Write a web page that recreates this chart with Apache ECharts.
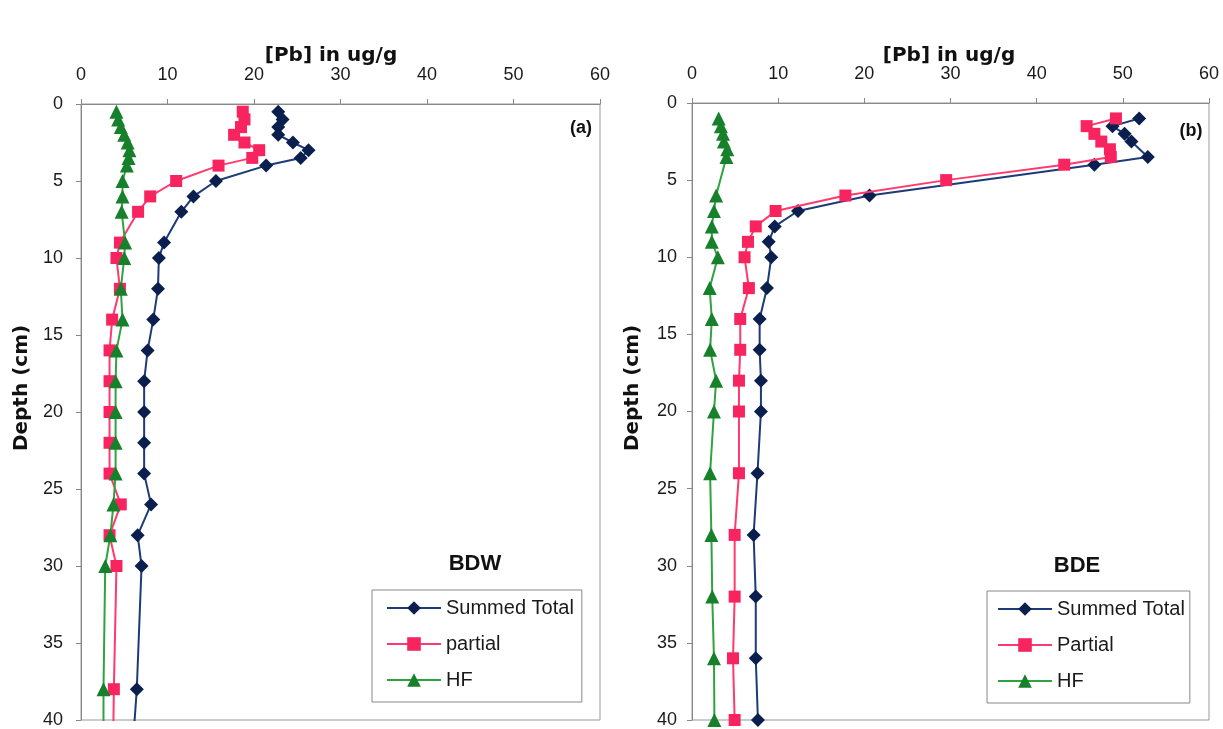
<!DOCTYPE html>
<html><head><meta charset="utf-8">
<script src="https://cdn.jsdelivr.net/npm/echarts@6/dist/echarts.min.js"></script>
<style>html,body{margin:0;padding:0;background:#fff}#c{width:1223px;height:729px}</style>
</head><body><div id="c"></div>
<script>
// Panel (a) BDW
const depthA = [0.5,1,1.5,2,2.5,3,3.5,4,5,6,7,9,10,12,14,16,18,20,22,24,26,28,30,38,42];
const summedA = [22.8,23.3,22.8,22.8,24.5,26.3,25.4,21.4,15.6,13.0,11.6,9.6,9.0,8.9,8.35,7.7,7.3,7.3,7.3,7.3,8.1,6.55,7.0,6.45,5.95];
const partialA = [18.7,18.9,18.5,17.7,18.9,20.6,19.8,15.9,11.0,8.0,6.6,4.5,4.1,4.5,3.6,3.3,3.3,3.3,3.3,3.3,4.6,3.3,4.1,3.8,3.7];
const hfA = [4.1,4.3,4.6,5.0,5.4,5.6,5.5,5.3,4.8,4.8,4.7,5.1,5.0,4.6,4.8,4.1,4.0,4.0,4.0,4.0,3.75,3.4,2.8,2.6,2.6];

// Panel (b) BDE
const depthSummedB = [1,1.5,2,2.5,3.5,4,6,7,8,9,10,12,14,16,18,20,24,28,32,36,40];
const summedB = [51.9,48.8,50.2,51.0,52.9,46.7,20.6,12.3,9.6,8.9,9.2,8.7,7.85,7.85,8.0,8.0,7.6,7.15,7.4,7.4,7.65];
const depthPartialB = [1,1.5,2,2.5,3,3.5,4,5,6,7,8,9,10,12,14,16,18,20,24,28,32,36,40];
const partialB = [49.2,45.8,46.7,47.5,48.5,48.6,43.2,29.5,17.8,9.7,7.4,6.5,6.1,6.6,5.6,5.6,5.45,5.45,5.45,4.95,4.95,4.76,4.95];
const depthHfB = [1,1.5,2,2.5,3,3.5,6,7,8,9,10,12,14,16,18,20,24,28,32,36,40];
const hfB = [3.1,3.35,3.6,3.7,4.1,4.0,2.8,2.55,2.3,2.3,3.0,2.05,2.3,2.1,2.8,2.55,2.1,2.25,2.35,2.55,2.6];

const xTicks = [0,10,20,30,40,50,60];
const yTicks = [0,5,10,15,20,25,30,35,40];
const xName = '[Pb] in ug/g';
const yName = 'Depth (cm)';
const namesA = ['Summed Total','partial','HF'];
const namesB = ['Summed Total ','Partial','HF '];
const panelTitles = ['BDW','BDE'];
const panelTags = ['(a)','(b)'];

const pairs = (xs, ys) => xs.map((v,i)=>[v, ys[i]]);
const FONT = 'Liberation Sans, Arial, sans-serif';
const BFONT = 'DejaVu Sans, sans-serif';
const C = {
  sumLine:'#1d3b78', sumMark:'#0b1f4e',
  parLine:'#ff3a6e', parMark:'#f7245f',
  hfLine:'#2fa33f', hfMark:'#17802a'
};

function xAx(gi){
  return {gridIndex:gi, type:'value', position:'top', min:0, max:60, interval:10,
    axisLine:{show:true,lineStyle:{color:'#888',width:1}},
    axisTick:{show:true,length:5,lineStyle:{color:'#888'}},
    axisLabel:{fontFamily:FONT,fontSize:18,color:'#1a1a1a',margin:20,
      formatter:v=>xTicks.includes(v)?String(v):''},
    splitLine:{show:false}};
}
function yAx(gi,margin){
  return {gridIndex:gi, type:'value', inverse:true, min:0, max:40, interval:5,
    axisLine:{show:true,lineStyle:{color:'#888',width:1}},
    axisTick:{show:true,length:5,lineStyle:{color:'#888'}},
    axisLabel:{fontFamily:FONT,fontSize:18,color:'#1a1a1a',margin:margin,
      formatter:v=>yTicks.includes(v)?String(v):''},
    splitLine:{show:false}};
}
function ser(name, gi, data, kind){
  const st = {
    sum:{symbol:'diamond',size:14,line:C.sumLine,mark:C.sumMark},
    par:{symbol:'rect',size:12,line:C.parLine,mark:C.parMark},
    hf:{symbol:'triangle',size:14,line:C.hfLine,mark:C.hfMark}
  }[kind];
  return {name, type:'line', xAxisIndex:gi, yAxisIndex:gi, data, clip:true,
    symbol:st.symbol, symbolSize:st.size, showSymbol:true,
    lineStyle:{color:st.line,width:2}, itemStyle:{color:st.mark},
    animation:false, z: kind==='sum'?3:(kind==='par'?4:5)};
}
function legend(names,left,top,padding){
  return {data:names, orient:'vertical', left, top, itemWidth:54, itemHeight:17, itemGap:16,
    padding, borderColor:'#888', borderWidth:1, backgroundColor:'#fff',
    selectedMode:false, textStyle:{fontFamily:FONT,fontSize:20,color:'#1a1a1a'},
    formatter:n=>n.trim()};
}
function label(s,x,y,size,font,rot){
  return {type:'text', x, y, z:100, rotation:rot||0,
    style:{text:s, fontFamily:font, fontSize:size, fontWeight:'bold', fill:'#111', align:'center', verticalAlign:'middle'}};
}

const chart = echarts.init(document.getElementById('c'), null, {renderer:'canvas'});
chart.setOption({
  backgroundColor:'#fff',
  animation:false,
  grid:[
    {left:81, top:104, width:519, height:616, show:true, borderColor:'#999', borderWidth:1, backgroundColor:'transparent'},
    {left:692, top:103, width:517, height:619, show:true, borderColor:'#999', borderWidth:1, backgroundColor:'transparent'}
  ],
  xAxis:[xAx(0), xAx(1)],
  yAxis:[yAx(0,18), yAx(1,15)],
  graphic:[
    label(xName,331,56,20,BFONT),
    label(xName,949,56,20,BFONT),
    label(yName,22,388,20,BFONT,Math.PI/2),
    label(yName,633,388,20,BFONT,Math.PI/2),
    label(panelTitles[0],475,564,22,FONT),
    label(panelTitles[1],1077,566,22,FONT),
    label(panelTags[0],581,128,18,FONT),
    label(panelTags[1],1191,131,18,FONT)
  ],
  legend:[legend(namesA,372,590,[8,8,12,14]), legend(namesB,987,591,[8,5,12,10])],
  series:[
    ser(namesA[0],0,pairs(summedA,depthA),'sum'),
    ser(namesA[1],0,pairs(partialA,depthA),'par'),
    ser(namesA[2],0,pairs(hfA,depthA),'hf'),
    ser(namesB[0],1,pairs(summedB,depthSummedB),'sum'),
    ser(namesB[1],1,pairs(partialB,depthPartialB),'par'),
    ser(namesB[2],1,pairs(hfB,depthHfB),'hf')
  ]
});
</script></body></html>
